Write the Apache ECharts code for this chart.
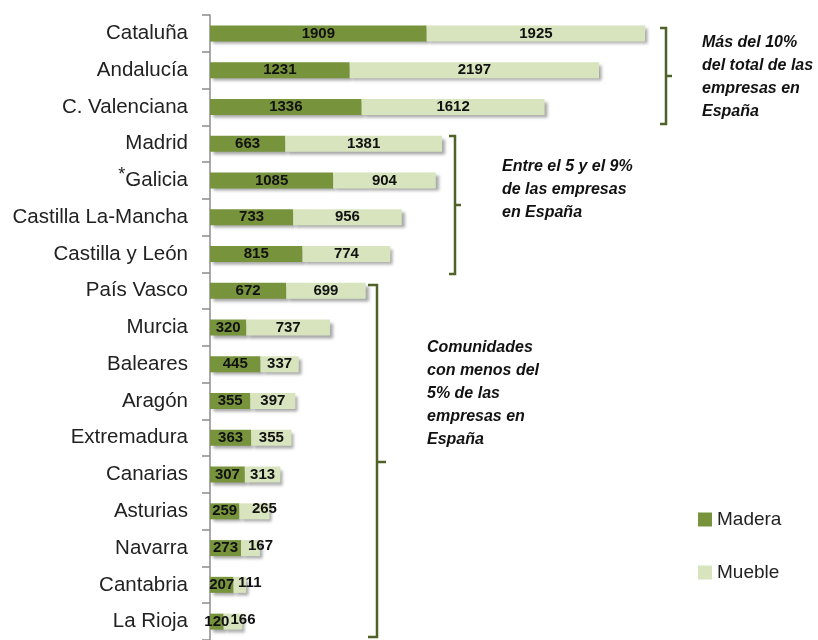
<!DOCTYPE html>
<html>
<head>
<meta charset="utf-8">
<script src="https://cdn.jsdelivr.net/npm/echarts@6/dist/echarts.min.js"></script>
<style>
  html, body { margin: 0; padding: 0; background: #fff; }
  #chart { width: 818px; height: 640px; }
</style>
</head>
<body>
<div id="chart"></div>
<script>
var regiones = ['Cataluña', 'Andalucía', 'C. Valenciana', 'Madrid', '*Galicia', 'Castilla La-Mancha',
    'Castilla y León', 'País Vasco', 'Murcia', 'Baleares', 'Aragón', 'Extremadura', 'Canarias',
    'Asturias', 'Navarra', 'Cantabria', 'La Rioja'];
var madera = [1909, 1231, 1336, 663, 1085, 733, 815, 672, 320, 445, 355, 363, 307, 259, 273, 207, 120];
var mueble = [1925, 2197, 1612, 1381, 904, 956, 774, 699, 737, 337, 397, 355, 313, 265, 167, 111, 166];

var notas = [
    ['Más del 10%', 'del total de las', 'empresas en', 'España'],
    ['Entre el 5 y el 9%', 'de las empresas', 'en España'],
    ['Comunidades', 'con menos del', '5% de las', 'empresas en', 'España']
];

var verdeOscuro = '#77933C';
var verdeClaro = '#D7E4BD';
var llave = '#4F6228';

var dom = document.getElementById('chart');
var myChart = echarts.init(dom, null, {renderer: 'canvas'});

var sombra = {
    shadowColor: 'rgba(0,0,0,0.35)',
    shadowBlur: 3,
    shadowOffsetX: 3,
    shadowOffsetY: 3
};

var etiqueta = {
    show: true,
    position: 'inside',
    color: '#111',
    fontWeight: 'bold',
    fontSize: 15,
    fontFamily: '"Liberation Sans Narrow", "Liberation Sans", Arial, sans-serif'
};

// labels of narrow Mueble segments sit a bit to the right, as in the original
var muebleData = mueble.map(function (v) {
    if (v < 300) {
        return {value: v, label: {offset: [10, -2]}};
    }
    return v;
});

function bracket(x0, x1, top, bottom) {
    return {
        type: 'polyline',
        shape: {points: [[x0, top], [x1, top], [x1, bottom], [x0, bottom]]},
        style: {stroke: llave, lineWidth: 2.5, fill: null}
    };
}
function nubLine(x1, y, x2) {
    return {
        type: 'line',
        shape: {x1: x1, y1: y, x2: x2, y2: y},
        style: {stroke: llave, lineWidth: 2.5}
    };
}
function nota(lines, x, y) {
    return {
        type: 'text',
        left: x,
        top: y,
        style: {
            text: lines.join('\n'),
            font: 'italic bold 16px "Liberation Sans", Arial, sans-serif',
            lineHeight: 23,
            fill: '#111'
        }
    };
}

var option = {
    animation: false,
    grid: {left: 210, top: 15, width: 454, height: 629},
    legend: {
        data: ['Madera', 'Mueble'],
        orient: 'vertical',
        left: 693,
        top: 505,
        icon: 'rect',
        itemWidth: 14,
        itemHeight: 14,
        itemGap: 34,
        textStyle: {fontSize: 19, color: '#222', fontFamily: 'Liberation Sans', lineHeight: 19}
    },
    xAxis: {
        type: 'value',
        min: 0,
        max: 4000,
        show: false
    },
    yAxis: {
        type: 'category',
        inverse: true,
        data: regiones,
        axisLine: {lineStyle: {color: '#8c8c8c', width: 1.5}},
        axisTick: {show: true, length: 8, inside: false, lineStyle: {color: '#8c8c8c', width: 1.5}},
        axisLabel: {
            margin: 22,
            fontSize: 20.5,
            color: '#222',
            fontFamily: 'Liberation Sans',
            formatter: function (v) {
                if (v.charAt(0) === '*') {
                    return '{sup|*}' + v.slice(1);
                }
                return v;
            },
            rich: {
                sup: {fontSize: 18, color: '#222', fontFamily: 'Liberation Sans', verticalAlign: 'top', padding: [0, 0, 10, 0]}
            }
        }
    },
    series: [
        {
            name: 'Madera',
            type: 'bar',
            stack: 'total',
            barWidth: 16,
            data: madera,
            itemStyle: Object.assign({color: verdeOscuro}, sombra),
            label: etiqueta
        },
        {
            name: 'Mueble',
            type: 'bar',
            stack: 'total',
            barWidth: 16,
            data: muebleData,
            itemStyle: Object.assign({color: verdeClaro}, sombra),
            label: etiqueta
        }
    ],
    graphic: [
        bracket(660, 666, 28, 124),
        nubLine(666, 76, 672),
        bracket(449, 455, 136, 274),
        nubLine(455, 205, 461),
        bracket(368, 377, 285, 637),
        nubLine(377, 462, 386),
        nota(notas[0], 702, 31),
        nota(notas[1], 502, 155),
        nota(notas[2], 427, 336)
    ]
};

myChart.setOption(option);
window.addEventListener('resize', myChart.resize);
</script>
</body>
</html>
